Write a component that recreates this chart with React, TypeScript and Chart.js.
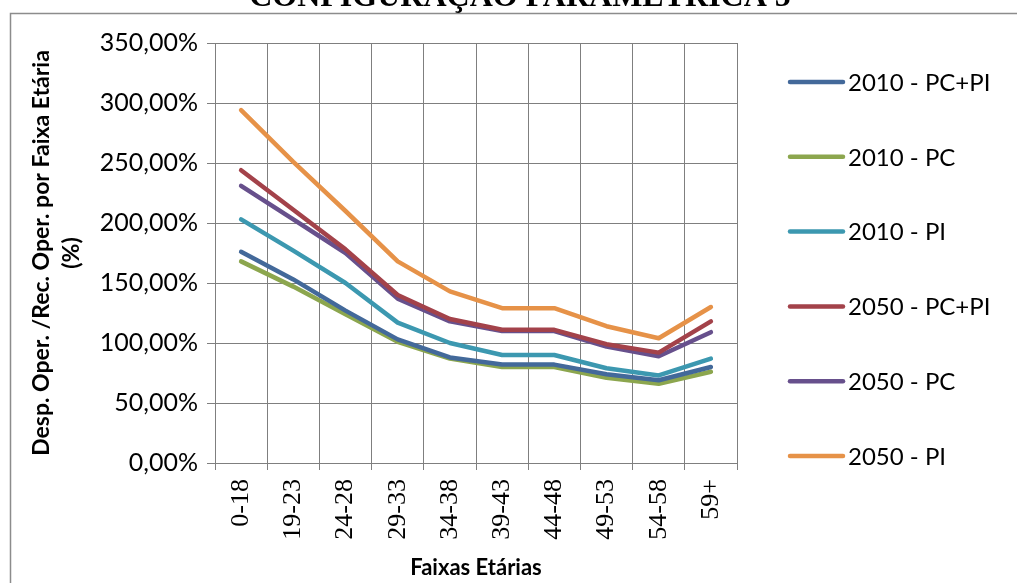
import React, { useEffect, useRef } from 'react';
import { Chart, registerables } from 'chart.js';

Chart.register(...registerables);

const chartTitle = 'CONFIGURAÇÃO PARAMÉTRICA 5';
const xAxisTitle = 'Faixas Etárias';
const yAxisTitle = ['Desp. Oper. /Rec. Oper. por Faixa Etária', '(%)'];

const categories = ['0-18', '19-23', '24-28', '29-33', '34-38', '39-43', '44-48', '49-53', '54-58', '59+'];

const seriesLabels = ['2010 - PC+PI', '2010 - PC', '2010 - PI', '2050 - PC+PI', '2050 - PC', '2050 - PI'];
const seriesColors = ['#43699A', '#8CA64E', '#3C98B0', '#A3424A', '#67508C', '#E69248'];

const v2010PCPI = [176, 153, 127, 103, 88, 82, 82, 74, 69, 80];
const v2010PC = [168, 147, 124, 101, 87, 80, 80, 71, 66, 76];
const v2010PI = [203, 177, 150, 117, 100, 90, 90, 79, 73, 87];
const v2050PCPI = [244, 211, 178, 140, 120, 111, 111, 99, 92, 118];
const v2050PC = [231, 203, 175, 137, 118, 110, 110, 97, 89, 109];
const v2050PI = [294, 251, 210, 168, 143, 129, 129, 114, 104, 130];

const yMin = 0;
const yMax = 350;
const yStep = 50;

const W = 1017;
const H = 583;

const decorPlugin = {
  id: 'decor',
  beforeDraw(chart: any) {
    const ctx = chart.ctx;
    ctx.save();
    ctx.fillStyle = '#ffffff';
    ctx.fillRect(0, 0, W, H);
    ctx.strokeStyle = '#8c8c8c';
    ctx.lineWidth = 1.5;
    ctx.strokeRect(10.5, 13.5, W + 20, H + 20);
    ctx.restore();
  },
  afterDraw(chart: any) {
    const ctx = chart.ctx;
    ctx.save();
    // cut-off chart title
    ctx.fillStyle = '#000';
    ctx.font = 'bold 32px "Liberation Serif"';
    ctx.textAlign = 'center';
    ctx.textBaseline = 'alphabetic';
    ctx.fillText(chartTitle, 520, 6);
    // legend
    const items = chart.data.datasets;
    const x0 = 790;
    const x1 = 843;
    const yStart = 82;
    const gap = 74.8;
    ctx.font = '24px Lato';
    ctx.textAlign = 'left';
    ctx.textBaseline = 'middle';
    items.forEach((ds: any, i: number) => {
      const y = yStart + i * gap;
      ctx.strokeStyle = ds.borderColor;
      ctx.lineWidth = 4.5;
      ctx.lineCap = 'round';
      ctx.beginPath();
      ctx.moveTo(x0, y);
      ctx.lineTo(x1, y);
      ctx.stroke();
      ctx.fillStyle = '#000';
      ctx.fillText(ds.label, x1 + 5, y + 1);
    });
    ctx.restore();
  },
};

export default function App() {
  const ref = useRef<HTMLCanvasElement | null>(null);

  useEffect(() => {
    if (!ref.current) return;
    const values = [v2010PCPI, v2010PC, v2010PI, v2050PCPI, v2050PC, v2050PI];
    const chart = new Chart(ref.current, {
      type: 'line',
      data: {
        labels: categories,
        datasets: values.map((vals, i) => ({
          label: seriesLabels[i],
          data: vals,
          borderColor: seriesColors[i],
          backgroundColor: seriesColors[i],
          borderWidth: 4.5,
          pointRadius: 0,
          pointHoverRadius: 0,
          tension: 0,
          fill: false,
          borderJoinStyle: 'round',
          borderCapStyle: 'round',
        })),
      },
      options: {
        responsive: false,
        animation: false,
        layout: { padding: { left: 12, top: 43, right: 280, bottom: 0 } },
        plugins: {
          legend: { display: false },
          title: { display: false },
          tooltip: { enabled: false },
        },
        scales: {
          x: {
            type: 'category',
            offset: true,
            grid: { offset: true, color: '#7f7f7f', lineWidth: 1, tickLength: 7, drawTicks: true },
            border: { color: '#7f7f7f', width: 1 },
            ticks: {
              autoSkip: false,
              minRotation: 90,
              maxRotation: 90,
              padding: 9,
              color: '#000',
              font: { family: '"Liberation Serif"', size: 26 },
            },
            title: {
              display: true,
              text: xAxisTitle,
              color: '#000',
              font: { family: 'Lato', size: 22, weight: 'bold' },
              padding: { top: 0, bottom: 2 },
            },
            afterFit: (s: any) => {
              s.height = H - 463;
            },
          },
          y: {
            min: yMin,
            max: yMax,
            grid: { color: '#7f7f7f', lineWidth: 1, tickLength: 8, drawTicks: true },
            border: { color: '#7f7f7f', width: 1 },
            ticks: {
              stepSize: yStep,
              padding: 9,
              color: '#000',
              font: { family: 'Lato', size: 25 },
              callback: (v: any) => Number(v).toFixed(2).replace('.', ',') + '%',
            },
            title: {
              display: true,
              text: yAxisTitle,
              color: '#000',
              font: { family: 'Lato', size: 23, weight: 'bold', lineHeight: 1.3 },
              padding: { top: 15, bottom: 0 },
            },
            afterFit: (s: any) => {
              s.width = 215 - 12;
            },
          },
        },
      },
      plugins: [decorPlugin],
    });
    return () => chart.destroy();
  }, []);

  return (
    <div style={{ position: 'fixed', left: 0, top: 0, width: W, height: H, background: '#fff' }}>
      <canvas ref={ref} width={W} height={H} style={{ display: 'block', width: W, height: H }} />
    </div>
  );
}
